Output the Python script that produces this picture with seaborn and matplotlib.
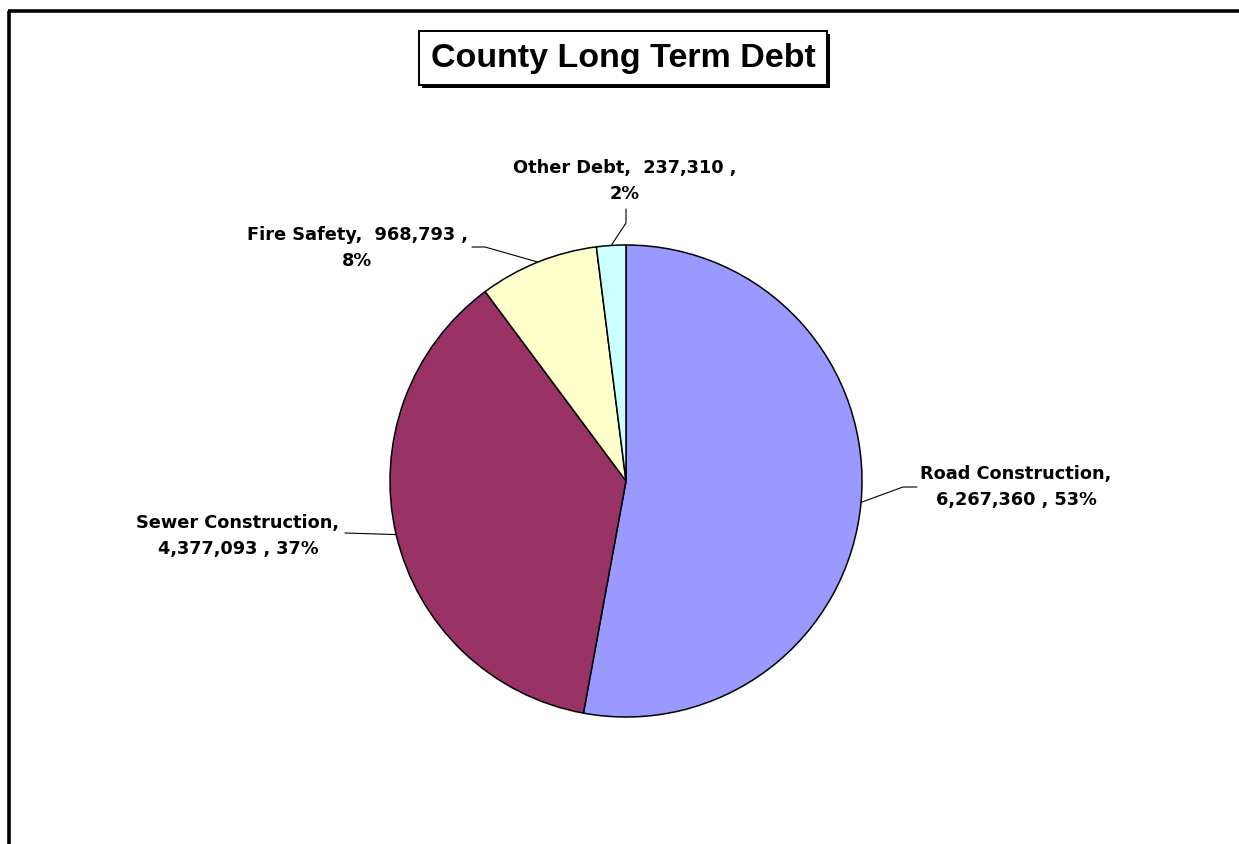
import numpy as np
import matplotlib
matplotlib.use("Agg")
import matplotlib.pyplot as plt
import matplotlib.patheffects as pe
from matplotlib.lines import Line2D
import seaborn as sns

# chart data
categories = ["Road Construction", "Sewer Construction", "Fire Safety", "Other Debt"]
amounts = [6267360, 4377093, 968793, 237310]
percents = [53, 37, 8, 2]
colors = ["#9999FF", "#993366", "#FFFFCC", "#CCFFFF"]
label_texts = [
    "Road Construction,\n6,267,360 , 53%",
    "Sewer Construction,\n4,377,093 , 37%",
    "Fire Safety,  968,793 ,\n8%",
    "Other Debt,  237,310 ,\n2%",
]

sns.set_style("white")
plt.rcParams['font.family'] = ['DejaVu Sans']
plt.rcParams['text.color'] = 'black'

W, H = 1239, 844
fig = plt.figure(figsize=(W / 100, H / 100), dpi=100)
ax = fig.add_axes([0, 0, 1, 1])

cx, cy, r = 626, H - 481, 236
wedges, _ = ax.pie(amounts, colors=colors, startangle=90, counterclock=False,
                   center=(cx, cy), radius=r,
                   wedgeprops=dict(edgecolor='black', linewidth=1.1))
ax.set_xlim(0, W)
ax.set_ylim(0, H)
ax.set_aspect('equal')
ax.axis('off')

# label layout in pixels: text centre, then leader points from text side
layout = [
    dict(text=(1016, 487), leader=[(917, 487), (903, 487)]),
    dict(text=(238, 536), leader=[(345, 533)]),
    dict(text=(357, 248), leader=[(472, 247), (485, 247)]),
    dict(text=(625, 181), leader=[(626, 209), (626, 223)]),
]

for w, lab, lay in zip(wedges, label_texts, layout):
    ang = np.deg2rad((w.theta1 + w.theta2) / 2)
    px, py = cx + r * np.cos(ang), cy + r * np.sin(ang)
    xs = [p[0] for p in lay['leader']] + [px]
    ys = [H - p[1] for p in lay['leader']] + [py]
    ax.plot(xs, ys, color='black', linewidth=0.8)
    tx, ty = lay['text']
    ax.text(tx, H - ty, lab, ha='center', va='center', fontsize=12.8,
            fontweight='bold', linespacing=1.55, color='black')

# title in a box with drop shadow
title = ax.text(623, H - 58, "County Long Term Debt", ha='center', va='center',
                fontsize=24.5, fontweight='bold', family=['Liberation Sans'],
                color='black',
                bbox=dict(boxstyle='square,pad=0.34', facecolor='white',
                          edgecolor='black', linewidth=1.4))
title.get_bbox_patch().set_path_effects(
    [pe.withSimplePatchShadow(offset=(2.2, -2.2), shadow_rgbFace='black', alpha=1),
     pe.Normal()])

# outer border (left and top)
fig.add_artist(Line2D([9 / W, 9 / W], [0, 1 - 10.5 / H], color='black',
                      linewidth=2.6, solid_capstyle='butt'))
fig.add_artist(Line2D([7.5 / W, 1], [1 - 10.5 / H, 1 - 10.5 / H], color='black',
                      linewidth=2.6, solid_capstyle='butt'))

fig.savefig("out.png", dpi=100, facecolor='white')
